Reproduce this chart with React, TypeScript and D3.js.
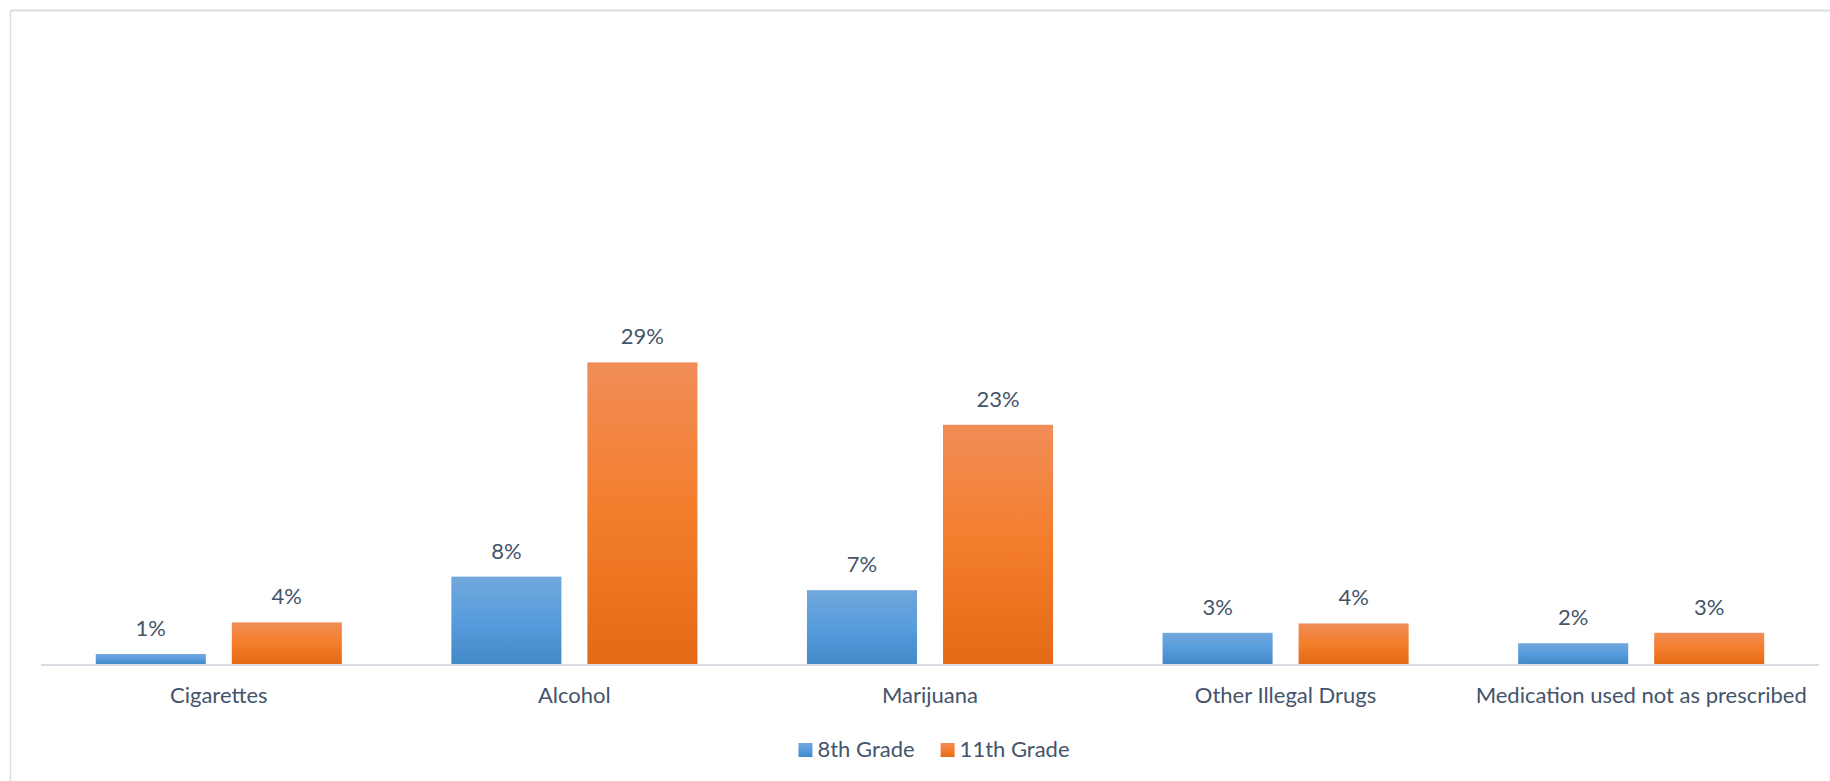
import React, { useEffect, useRef } from "react";
import * as d3 from "d3";

const categories = [
  "Cigarettes",
  "Alcohol",
  "Marijuana",
  "Other Illegal Drugs",
  "Medication used not as prescribed",
];
const seriesNames = ["8th Grade", "11th Grade"];
const grade8 = [0.0096, 0.084, 0.071, 0.03, 0.02];
const grade11 = [0.04, 0.29, 0.23, 0.039, 0.03];

const W = 1830;
const H = 781;
const FONT = "Lato, 'Open Sans', sans-serif";
const TEXT = "#44546a";

export default function App() {
  const ref = useRef<SVGSVGElement | null>(null);

  useEffect(() => {
    const svg = d3.select(ref.current);
    svg.selectAll("*").remove();

    const defs = svg.append("defs");
    const grads = [
      { id: "gBlue", stops: ["#72a8dd", "#579cdc", "#438ac9"] },
      { id: "gOrange", stops: ["#f08d57", "#f47d2b", "#e36b17"] },
    ];
    grads.forEach((g) => {
      const lg = defs
        .append("linearGradient")
        .attr("id", g.id)
        .attr("x1", 0)
        .attr("y1", 0)
        .attr("x2", 0)
        .attr("y2", 1);
      g.stops.forEach((c, i) =>
        lg.append("stop").attr("offset", `${i * 50}%`).attr("stop-color", c)
      );
    });

    // frame
    svg
      .append("line")
      .attr("x1", 10)
      .attr("x2", W)
      .attr("y1", 10.5)
      .attr("y2", 10.5)
      .attr("stroke", "#d9dce2")
      .attr("stroke-width", 2);
    svg
      .append("line")
      .attr("x1", 10.5)
      .attr("x2", 10.5)
      .attr("y1", 10)
      .attr("y2", H)
      .attr("stroke", "#d9dce2")
      .attr("stroke-width", 1.5);

    const x0 = d3
      .scaleBand<string>()
      .domain(categories)
      .range([41, 1819])
      .paddingInner(0)
      .paddingOuter(0);
    const x1 = d3
      .scaleBand<string>()
      .domain(seriesNames)
      .range([0, x0.bandwidth()])
      .paddingInner(0.191)
      .paddingOuter(0.4026);
    const y = d3.scaleLinear().domain([0, 0.5]).range([664, 144]);

    const series = [
      { name: seriesNames[0], values: grade8, fill: "url(#gBlue)" },
      { name: seriesNames[1], values: grade11, fill: "url(#gOrange)" },
    ];
    const fmt = d3.format(".0%");

    series.forEach((s) => {
      const g = svg.append("g");
      g.selectAll("rect")
        .data(s.values)
        .join("rect")
        .attr("x", (_, i) => (x0(categories[i]) as number) + (x1(s.name) as number))
        .attr("width", x1.bandwidth())
        .attr("y", (d) => y(d))
        .attr("height", (d) => y(0) - y(d))
        .attr("fill", s.fill);
      g.selectAll("text")
        .data(s.values)
        .join("text")
        .attr(
          "x",
          (_, i) =>
            (x0(categories[i]) as number) + (x1(s.name) as number) + x1.bandwidth() / 2
        )
        .attr("y", (d) => y(d) - 18)
        .attr("text-anchor", "middle")
        .attr("font-family", FONT)
        .attr("font-size", 22)
        .attr("fill", TEXT)
        .text((d) => fmt(d));
    });

    // axis baseline
    svg
      .append("line")
      .attr("x1", x0.range()[0])
      .attr("x2", x0.range()[1])
      .attr("y1", y(0) + 1)
      .attr("y2", y(0) + 1)
      .attr("stroke", "#d9dce2")
      .attr("stroke-width", 2);

    // category labels
    svg
      .append("g")
      .selectAll("text")
      .data(categories)
      .join("text")
      .attr("x", (d) => (x0(d) as number) + x0.bandwidth() / 2)
      .attr("y", 703)
      .attr("text-anchor", "middle")
      .attr("font-family", FONT)
      .attr("font-size", 22)
      .attr("fill", TEXT)
      .text((d) => d);

    // legend
    const legend = svg.append("g");
    const items = series.map((s) => {
      const g = legend.append("g");
      g.append("rect")
        .attr("width", 14)
        .attr("height", 14)
        .attr("y", 743)
        .attr("fill", s.fill);
      const t = g
        .append("text")
        .attr("x", 19)
        .attr("y", 757)
        .attr("font-family", FONT)
        .attr("font-size", 22)
        .attr("fill", TEXT)
        .text(s.name);
      const w = 19 + (t.node() as SVGTextElement).getComputedTextLength();
      return { g, w };
    });
    const gap = 26;
    const total = items.reduce((a, b) => a + b.w, 0) + gap * (items.length - 1);
    let cx = 934 - total / 2;
    items.forEach((it) => {
      it.g.attr("transform", `translate(${cx},0)`);
      cx += it.w + gap;
    });
  }, []);

  return (
    <svg
      ref={ref}
      width={W}
      height={H}
      style={{ position: "absolute", left: 0, top: 0, display: "block", background: "#fff" }}
    />
  );
}
